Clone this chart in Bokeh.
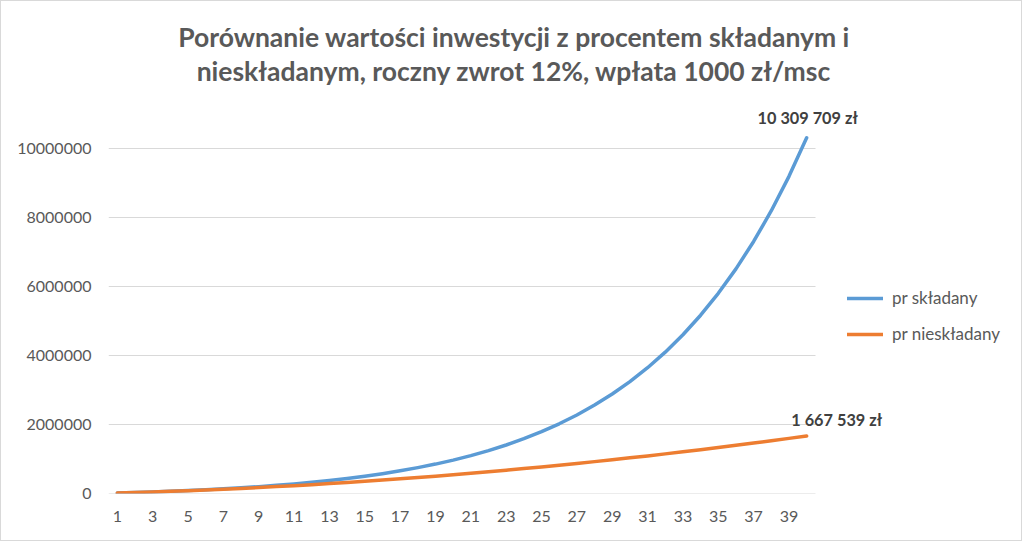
from bokeh.plotting import figure
from bokeh.models import Range1d, FixedTicker, Label, Legend, LegendItem
from bokeh.embed import file_html
from bokeh.resources import INLINE

years = list(range(1, 41))
compound = [13440, 28493, 45352, 64234, 85382, 109068, 135596, 165308, 198585, 235855,
            277598, 324349, 376711, 435357, 501039, 574604, 656997, 749276, 852629, 968385,
            1098031, 1243235, 1405863, 1588007, 1792007, 2020488, 2276387, 2562993, 2883992, 3243511,
            3646173, 4097153, 4602252, 5167962, 5801557, 6511184, 7305966, 8196122, 9193097, 10309709]
simple = [13440, 28344, 44688, 62480, 81720, 102408, 124544, 148128, 173160, 199640,
          227568, 256944, 287768, 320040, 353760, 388928, 425544, 463608, 503120, 544080,
          586488, 630344, 675648, 722400, 770600, 820248, 871344, 923888, 977880, 1033320,
          1090208, 1148544, 1208328, 1269560, 1332240, 1396368, 1461944, 1528968, 1597440, 1667539]
series_names = ["pr składany", "pr nieskładany"]
end_labels = ["10 309 709 zł", "1 667 539 zł"]
title_lines = ["Porównanie wartości inwestycji z procentem składanym i",
               "nieskładanym, roczny zwrot 12%, wpłata 1000 zł/msc"]
y_ticks = [0, 2000000, 4000000, 6000000, 8000000, 10000000]
x_ticks = list(range(1, 40, 2))

FONT = "Lato"
GRAY = "#595959"
DARK = "#404040"
BLUE = "#5B9BD5"
ORANGE = "#ED7D31"
GRID = "#D9D9D9"

# pixel helpers (page pixels -> data), frame: x=0.5 at px 108, 17.675 px per year; y=0 at px 493, 34.5 px per million
def dx(px):
    return 0.5 + (px - 108) / 17.675

def dy(py):
    return (493 - py) / 34.5 * 1e6

p = figure(width=1022, height=541, output_backend="svg", toolbar_location=None,
           x_range=Range1d(0.5, dx(1013)), y_range=Range1d(0, dy(1)),
           min_border_left=107, min_border_right=10, min_border_top=0, min_border_bottom=49)
p.outline_line_color = None
p.xgrid.grid_line_color = None
p.ygrid.grid_line_color = None
p.yaxis.ticker = FixedTicker(ticks=y_ticks)
p.xaxis.ticker = FixedTicker(ticks=x_ticks)
p.yaxis.formatter.use_scientific = False
for ax in (p.xaxis, p.yaxis):
    ax.axis_line_color = None
    ax.major_tick_line_color = None
    ax.minor_tick_line_color = None
    ax.major_tick_out = 0
    ax.major_tick_in = 0
    ax.minor_tick_out = 0
    ax.major_label_text_font = FONT
    ax.major_label_text_color = GRAY
    ax.major_label_text_font_size = "16px"
p.yaxis.major_label_standoff = 17
p.xaxis.major_label_standoff = 17
p.styles = {"border": "1px solid #D9D9D9"}

# horizontal gridlines spanning the category area only
p.segment(x0=years[0] - 0.5, x1=years[-1] + 0.5, y0=y_ticks, y1=y_ticks,
          line_color=GRID, line_width=1)

r1 = p.line(years, compound, line_color=BLUE, line_width=3.5, line_join="round", line_cap="round")
r2 = p.line(years, simple, line_color=ORANGE, line_width=3.5, line_join="round", line_cap="round")

legend = Legend(items=[LegendItem(label=series_names[0], renderers=[r1]),
                       LegendItem(label=series_names[1], renderers=[r2])],
                location=(739, 149), padding=0, margin=0, spacing=15,
                glyph_width=36, glyph_height=20, label_height=20, label_standoff=9,
                border_line_alpha=0, background_fill_alpha=0,
                label_text_font=FONT, label_text_color=GRAY, label_text_font_size="17px")
p.add_layout(legend, "center")

p.add_layout(Label(x=years[-1], y=compound[-1], text=end_labels[0], text_align="center",
                   text_baseline="alphabetic", x_offset=1, y_offset=20, text_font=FONT,
                   text_font_style="bold", text_color=DARK, text_font_size="16.3px"))
p.add_layout(Label(x=years[-1], y=simple[-1], text=end_labels[1], text_align="center",
                   text_baseline="alphabetic", x_offset=30, y_offset=16, text_font=FONT,
                   text_font_style="bold", text_color=DARK, text_font_size="16.3px"))

p.add_layout(Label(x=dx(513.5), y=dy(36), text=title_lines[0], text_align="center",
                   text_baseline="alphabetic", text_font=FONT, text_font_style="bold",
                   text_color=GRAY, text_font_size="26.5px"))
p.add_layout(Label(x=dx(513.5), y=dy(70), text=title_lines[1], text_align="center",
                   text_baseline="alphabetic", text_font=FONT, text_font_style="bold",
                   text_color=GRAY, text_font_size="26.5px"))

open("out.html", "w").write(file_html(p, INLINE))
